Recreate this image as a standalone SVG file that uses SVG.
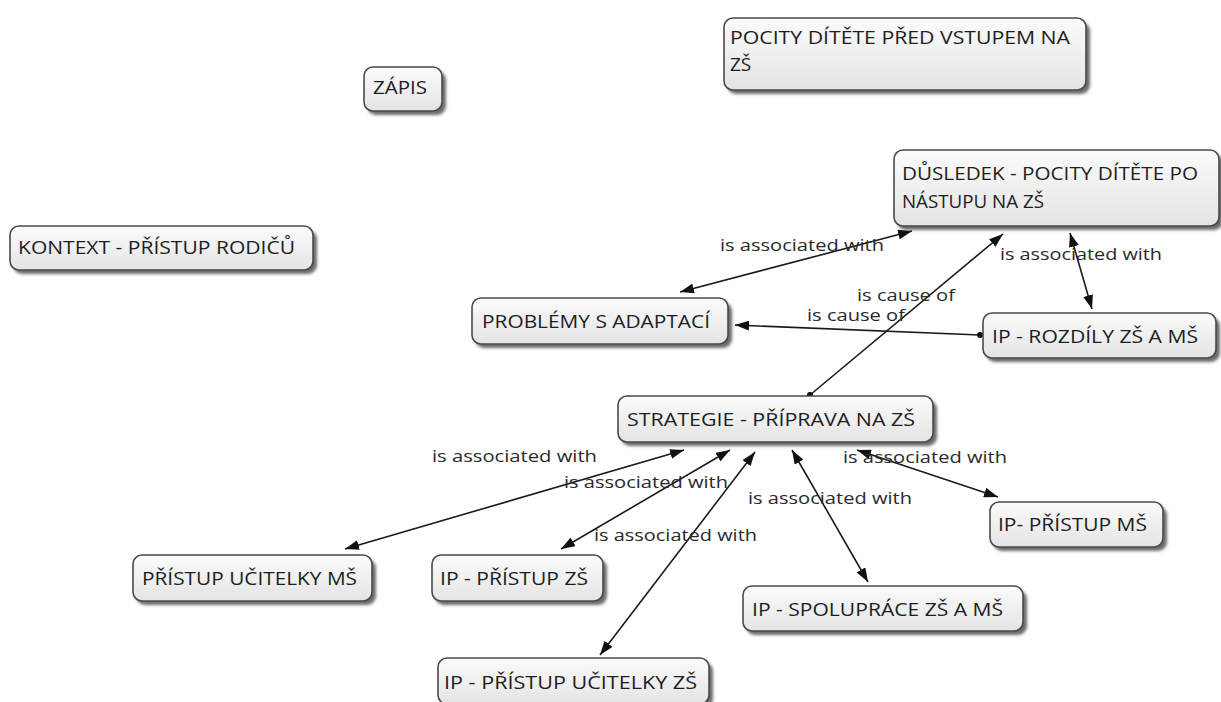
<svg xmlns="http://www.w3.org/2000/svg" width="1221" height="702" viewBox="0 0 1221 702">
<defs>
<linearGradient id="boxFill" x1="0" y1="0" x2="0" y2="1">
<stop offset="0" stop-color="#fbfbfb"/>
<stop offset="1" stop-color="#e4e4e4"/>
</linearGradient>
<filter id="shadow" x="-10%" y="-20%" width="130%" height="160%">
<feGaussianBlur stdDeviation="1.6"/>
</filter>
<marker id="arrow" viewBox="0 0 14 10" refX="14" refY="5" markerWidth="14" markerHeight="10" markerUnits="userSpaceOnUse" orient="auto-start-reverse">
<path d="M0,0 L14,5 L0,10 z" fill="#111"/>
</marker>
<marker id="dot" viewBox="0 0 8 8" refX="4" refY="4" markerWidth="7" markerHeight="7" markerUnits="userSpaceOnUse">
<circle cx="4" cy="4" r="3.5" fill="#111"/>
</marker>
</defs>
<style>
.shd{fill:#3a3a3a;opacity:0.75;filter:url(#shadow)}
.box{fill:url(#boxFill);stroke:#4a4a4a;stroke-width:1.6}
.nt{font-family:"Open Sans","Noto Sans","DejaVu Sans",sans-serif;font-size:19px;fill:#1e1e1e}
.lt{font-family:"Open Sans","Noto Sans","DejaVu Sans",sans-serif;font-size:17px;fill:#2a2a2a}
.cn{stroke:#1a1a1a;stroke-width:1.6;fill:none}
.both{marker-start:url(#arrow);marker-end:url(#arrow)}
.cause{marker-start:url(#dot);marker-end:url(#arrow)}
</style>
<rect width="1221" height="702" fill="#ffffff"/>

<g id="connectors">
<line class="cn both" x1="912" y1="231" x2="680" y2="292"/>
<line class="cn both" x1="1070" y1="233" x2="1092" y2="309"/>
<line class="cn cause" x1="980" y1="335" x2="735" y2="325"/>
<line class="cn cause" x1="810" y1="395" x2="1003" y2="234"/>
<line class="cn both" x1="684" y1="450" x2="345" y2="549"/>
<line class="cn both" x1="730" y1="450" x2="561" y2="549"/>
<line class="cn both" x1="755" y1="452" x2="600" y2="655"/>
<line class="cn both" x1="792" y1="450" x2="868" y2="582"/>
<line class="cn both" x1="857" y1="450" x2="998" y2="497"/>
<text class="lt" x="720" y="251" textLength="164" lengthAdjust="spacingAndGlyphs">is associated with</text>
<text class="lt" x="1000" y="260" textLength="162" lengthAdjust="spacingAndGlyphs">is associated with</text>
<text class="lt" x="807" y="321" textLength="98" lengthAdjust="spacingAndGlyphs">is cause of</text>
<text class="lt" x="857" y="301" textLength="98" lengthAdjust="spacingAndGlyphs">is cause of</text>
<text class="lt" x="432" y="462" textLength="165" lengthAdjust="spacingAndGlyphs">is associated with</text>
<text class="lt" x="564" y="488" textLength="164" lengthAdjust="spacingAndGlyphs">is associated with</text>
<text class="lt" x="594" y="541" textLength="163" lengthAdjust="spacingAndGlyphs">is associated with</text>
<text class="lt" x="748" y="504" textLength="164" lengthAdjust="spacingAndGlyphs">is associated with</text>
<text class="lt" x="843" y="463" textLength="164" lengthAdjust="spacingAndGlyphs">is associated with</text>
</g>

<g id="node-pocity-pred">
<rect class="shd" x="727" y="22" width="363" height="72" rx="9"/>
<rect class="box" x="724" y="18" width="362" height="72" rx="9"/>
<text class="nt" x="730" y="44" textLength="340" lengthAdjust="spacingAndGlyphs">POCITY DÍTĚTE PŘED VSTUPEM NA</text>
<text class="nt" x="730" y="71">ZŠ</text>
</g>

<g id="node-zapis">
<rect class="shd" x="367" y="71" width="79" height="44" rx="9"/>
<rect class="box" x="364" y="67" width="78" height="44" rx="9"/>
<text class="nt" x="373" y="94" textLength="54" lengthAdjust="spacingAndGlyphs">ZÁPIS</text>
</g>

<g id="node-dusledek">
<rect class="shd" x="897" y="154" width="326" height="76" rx="9"/>
<rect class="box" x="894" y="150" width="325" height="76" rx="9"/>
<text class="nt" x="902" y="180" textLength="296" lengthAdjust="spacingAndGlyphs">DŮSLEDEK - POCITY DÍTĚTE PO</text>
<text class="nt" x="902" y="208" textLength="142" lengthAdjust="spacingAndGlyphs">NÁSTUPU NA ZŠ</text>
</g>

<g id="node-kontext">
<rect class="shd" x="13" y="230" width="304" height="44" rx="9"/>
<rect class="box" x="10" y="226" width="303" height="44" rx="9"/>
<text class="nt" x="18" y="254" textLength="277" lengthAdjust="spacingAndGlyphs">KONTEXT - PŘÍSTUP RODIČŮ</text>
</g>

<g id="node-problemy">
<rect class="shd" x="475" y="302" width="257" height="46" rx="9"/>
<rect class="box" x="472" y="298" width="256" height="46" rx="9"/>
<text class="nt" x="482" y="328" textLength="228" lengthAdjust="spacingAndGlyphs">PROBLÉMY S ADAPTACÍ</text>
</g>

<g id="node-rozdily">
<rect class="shd" x="986" y="317" width="234" height="45" rx="9"/>
<rect class="box" x="983" y="313" width="233" height="45" rx="9"/>
<text class="nt" x="992" y="343" textLength="206" lengthAdjust="spacingAndGlyphs">IP - ROZDÍLY ZŠ A MŠ</text>
</g>

<g id="node-strategie">
<rect class="shd" x="621" y="400" width="316" height="46" rx="9"/>
<rect class="box" x="618" y="396" width="315" height="46" rx="9"/>
<text class="nt" x="627" y="426" textLength="288" lengthAdjust="spacingAndGlyphs">STRATEGIE - PŘÍPRAVA NA ZŠ</text>
</g>

<g id="node-pristup-ms">
<rect class="shd" x="993" y="506" width="174" height="45" rx="9"/>
<rect class="box" x="990" y="502" width="173" height="45" rx="9"/>
<text class="nt" x="998" y="531" textLength="149" lengthAdjust="spacingAndGlyphs">IP- PŘÍSTUP MŠ</text>
</g>

<g id="node-ucitelky-ms">
<rect class="shd" x="136" y="559" width="240" height="46" rx="9"/>
<rect class="box" x="133" y="555" width="239" height="46" rx="9"/>
<text class="nt" x="142" y="585" textLength="215" lengthAdjust="spacingAndGlyphs">PŘÍSTUP UČITELKY MŠ</text>
</g>

<g id="node-pristup-zs">
<rect class="shd" x="435" y="559" width="172" height="46" rx="9"/>
<rect class="box" x="432" y="555" width="171" height="46" rx="9"/>
<text class="nt" x="440" y="585" textLength="148" lengthAdjust="spacingAndGlyphs">IP - PŘÍSTUP ZŠ</text>
</g>

<g id="node-spoluprace">
<rect class="shd" x="746" y="590" width="281" height="45" rx="9"/>
<rect class="box" x="743" y="586" width="280" height="45" rx="9"/>
<text class="nt" x="752" y="616" textLength="251" lengthAdjust="spacingAndGlyphs">IP - SPOLUPRÁCE ZŠ A MŠ</text>
</g>

<g id="node-ucitelky-zs">
<rect class="shd" x="441" y="662" width="272" height="46" rx="9"/>
<rect class="box" x="438" y="658" width="271" height="46" rx="9"/>
<text class="nt" x="444" y="689" textLength="253" lengthAdjust="spacingAndGlyphs">IP - PŘÍSTUP UČITELKY ZŠ</text>
</g>
</svg>
